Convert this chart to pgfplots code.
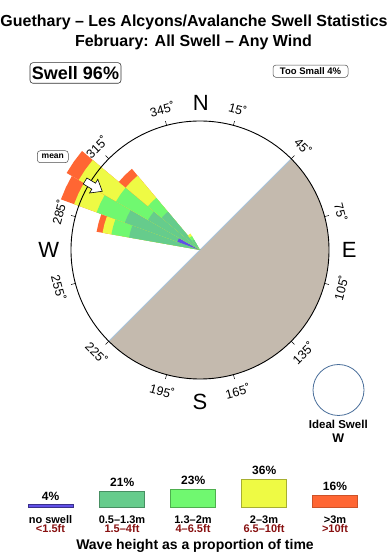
\documentclass[border=0pt]{standalone}
\usepackage{pgfplots}
\pgfplotsset{compat=1.18}
\usepackage{fontspec}
\setmainfont{Liberation Sans}
\definecolor{land}{HTML}{C4BAAE}
\definecolor{coast}{HTML}{A8C4DC}
\definecolor{cblue}{HTML}{6050E8}
\definecolor{cdg}{HTML}{66CC8C}
\definecolor{clg}{HTML}{70F870}
\definecolor{cye}{HTML}{EEFA44}
\definecolor{crd}{HTML}{FF6633}
\definecolor{ftred}{HTML}{881111}
\definecolor{ideal}{HTML}{4A6E9A}
\newcommand\fs[1]{\fontsize{#1}{#1}\selectfont}
% band{colour}{angle1}{mid}{angle2}{outer radius}  (math angles, data cs=polar)
\newcommand\band[5]{\addplot[fill=#1,draw=none,data cs=polar] coordinates {(#2,0) (#2,#5) (#3,#5) (#4,#5) (#4,0)} -- cycle;}
\begin{document}
\begin{tikzpicture}
% land (exposure) and coastline
\begin{scope}[shift={(200pt,310pt)}, x=1pt, y=1pt]
  \fill[land] (0,0) -- (45:129) arc[start angle=45,end angle=-135,radius=129] -- cycle;
  \draw[coast, line width=0.9pt] (45:129) -- (-135:129);
\end{scope}
% swell rose
\begin{axis}[at={(0pt,0pt)}, anchor=south west, x=1pt, y=1pt, scale only axis,
  xmin=-200, xmax=190, ymin=-310, ymax=250, hide axis, clip=false]
  % 280-290
  \band{crd}{170}{165}{160}{105}
  \band{cye}{170}{165}{160}{99}
  \band{clg}{170}{165}{160}{90}
  \band{cdg}{170}{165}{160}{72}
  % 290-300
  \band{crd}{160}{155}{150}{148}
  \band{cye}{160}{155}{150}{134}
  \band{clg}{160}{155}{150}{110}
  \band{cdg}{160}{155}{150}{80}
  \band{cblue}{160}{155}{150}{24}
  % 300-310
  \band{crd}{150}{145}{140}{154}
  \band{cye}{150}{145}{140}{140}
  \band{clg}{150}{145}{140}{97}
  \band{cdg}{150}{145}{140}{60}
  % 310-320
  \band{crd}{140}{135}{130}{106}
  \band{cye}{140}{135}{130}{97}
  \band{clg}{140}{135}{130}{68}
  \band{cdg}{140}{135}{130}{50}
  % 320-330
  \band{cye}{130}{125}{120}{19}
  \band{clg}{130}{125}{120}{16}
  \band{cdg}{130}{125}{120}{12}
\end{axis}
% legend bars
\begin{axis}[at={(0pt,52.3pt)}, anchor=south west, x=1pt, y=0.8pt, scale only axis,
  xmin=0, xmax=390, ymin=0, ymax=40, hide axis, clip=false, enlargelimits=false,
  ybar, bar width=45pt, bar shift=0pt,
  /pgf/number format/assume math mode=true,
  nodes near coords={\pgfmathprintnumber{\pgfplotspointmeta}\%},
  every node near coord/.append style={anchor=base, yshift=4.5pt, inner sep=0pt, font=\bfseries\fs{12}, text=black}]
  \addplot[fill=cblue, draw=cblue!60!black, line width=0.6pt] coordinates {(50.5,4)};
  \addplot[fill=cdg, draw=cdg!70!black, line width=0.6pt] coordinates {(122.2,21)};
  \addplot[fill=clg, draw=clg!70!black, line width=0.6pt] coordinates {(193.2,23)};
  \addplot[fill=cye, draw=cye!70!black, line width=0.6pt] coordinates {(264.2,36)};
  \addplot[fill=crd, draw=crd!80!black, line width=0.6pt] coordinates {(335,16)};
\end{axis}
% decorations and text
\begin{scope}[shift={(200pt,310pt)}, x=1pt, y=1pt]
  \draw[black, line width=0.9pt] (0,0) circle[radius=129];
  \foreach \c in {15,45,...,345}
    \draw[line width=0.5pt] ({129*sin(\c)},{129*cos(\c)}) -- ({133.5*sin(\c)},{133.5*cos(\c)});
  \foreach \c/\r in {15/-15,45/-45,75/-75,105/75,135/45,165/15,195/-15,225/-45,255/-75,285/75,315/45,345/15}
    \node[rotate=\r, font=\fs{12.5}, inner sep=0pt] at ({146*sin(\c)},{146*cos(\c)}) {\c˚};
  \node[font=\fs{22}, inner sep=0pt] at (0.8,147.5) {N};
  \node[font=\fs{22}, inner sep=0pt] at (149.2,0) {E};
  \node[font=\fs{22}, inner sep=0pt] at (0,-151.7) {S};
  \node[font=\fs{22}, inner sep=0pt] at (-151.2,0) {W};
  % mean arrow
  \draw[fill=white, line width=0.6pt, shift={(-114.9,69.0)}, rotate=-31]
    (0,3.5) -- (10,3.5) -- (10,8) -- (20,0) -- (10,-8) -- (10,-3.5) -- (0,-3.5) -- cycle;
  \node[draw=black!70, rounded corners=3pt, line width=0.5pt, minimum width=31pt, minimum height=12pt, inner sep=0pt, font=\bfseries\fs{8.5}] at (-147.2,93.3) {mean};
  % titles
  \node[anchor=base, font=\bfseries\fs{16}, inner sep=0pt] at (-6,223.5) {Guethary – Les Alcyons/Avalanche Swell Statistics};
  \node[anchor=base, font=\bfseries\fs{16}, inner sep=0pt] at (-6.5,203.3) {February: All Swell – Any Wind};
  \node[draw=black!80, rounded corners=3pt, line width=0.6pt, minimum width=91pt, minimum height=20.6pt, inner sep=0pt, font=\bfseries\fs{18}] at (-124.5,177) {Swell 96\%};
  \node[draw=black!70, rounded corners=3pt, line width=0.5pt, minimum width=75pt, minimum height=12.3pt, inner sep=0pt, font=\bfseries\fs{9.5}] at (110.5,178.8) {Too Small 4\%};
  % ideal swell
  \draw[ideal, line width=0.8pt] (138.5,-140) circle[radius=25.5];
  \node[anchor=base, font=\bfseries\fs{11.5}, inner sep=0pt] at (138.3,-179) {Ideal Swell};
  \node[anchor=base, font=\bfseries\fs{12.5}, inner sep=0pt] at (138.3,-192.3) {W};
  % legend labels
  \foreach \x/\a/\b in {-149.5/no swell/<1.5ft, -78/0.5–1.3m/1.5–4ft, -7/1.3–2m/4–6.5ft, 64/2–3m/6.5–10ft, 135/>3m/>10ft}{
    \node[anchor=base, font=\bfseries\fs{11}, inner sep=0pt] at (\x,-273.3) {\a};
    \node[anchor=base, font=\bfseries\fs{11}, text=ftred, inner sep=0pt] at (\x,-282.7) {\b};
  }
  \node[anchor=base, font=\bfseries\fs{14}, inner sep=0pt] at (-5,-300) {Wave height as a proportion of time};
\end{scope}
\pgfresetboundingbox
\useasboundingbox (0,0) rectangle (390pt,560pt);
\end{tikzpicture}
\end{document}
